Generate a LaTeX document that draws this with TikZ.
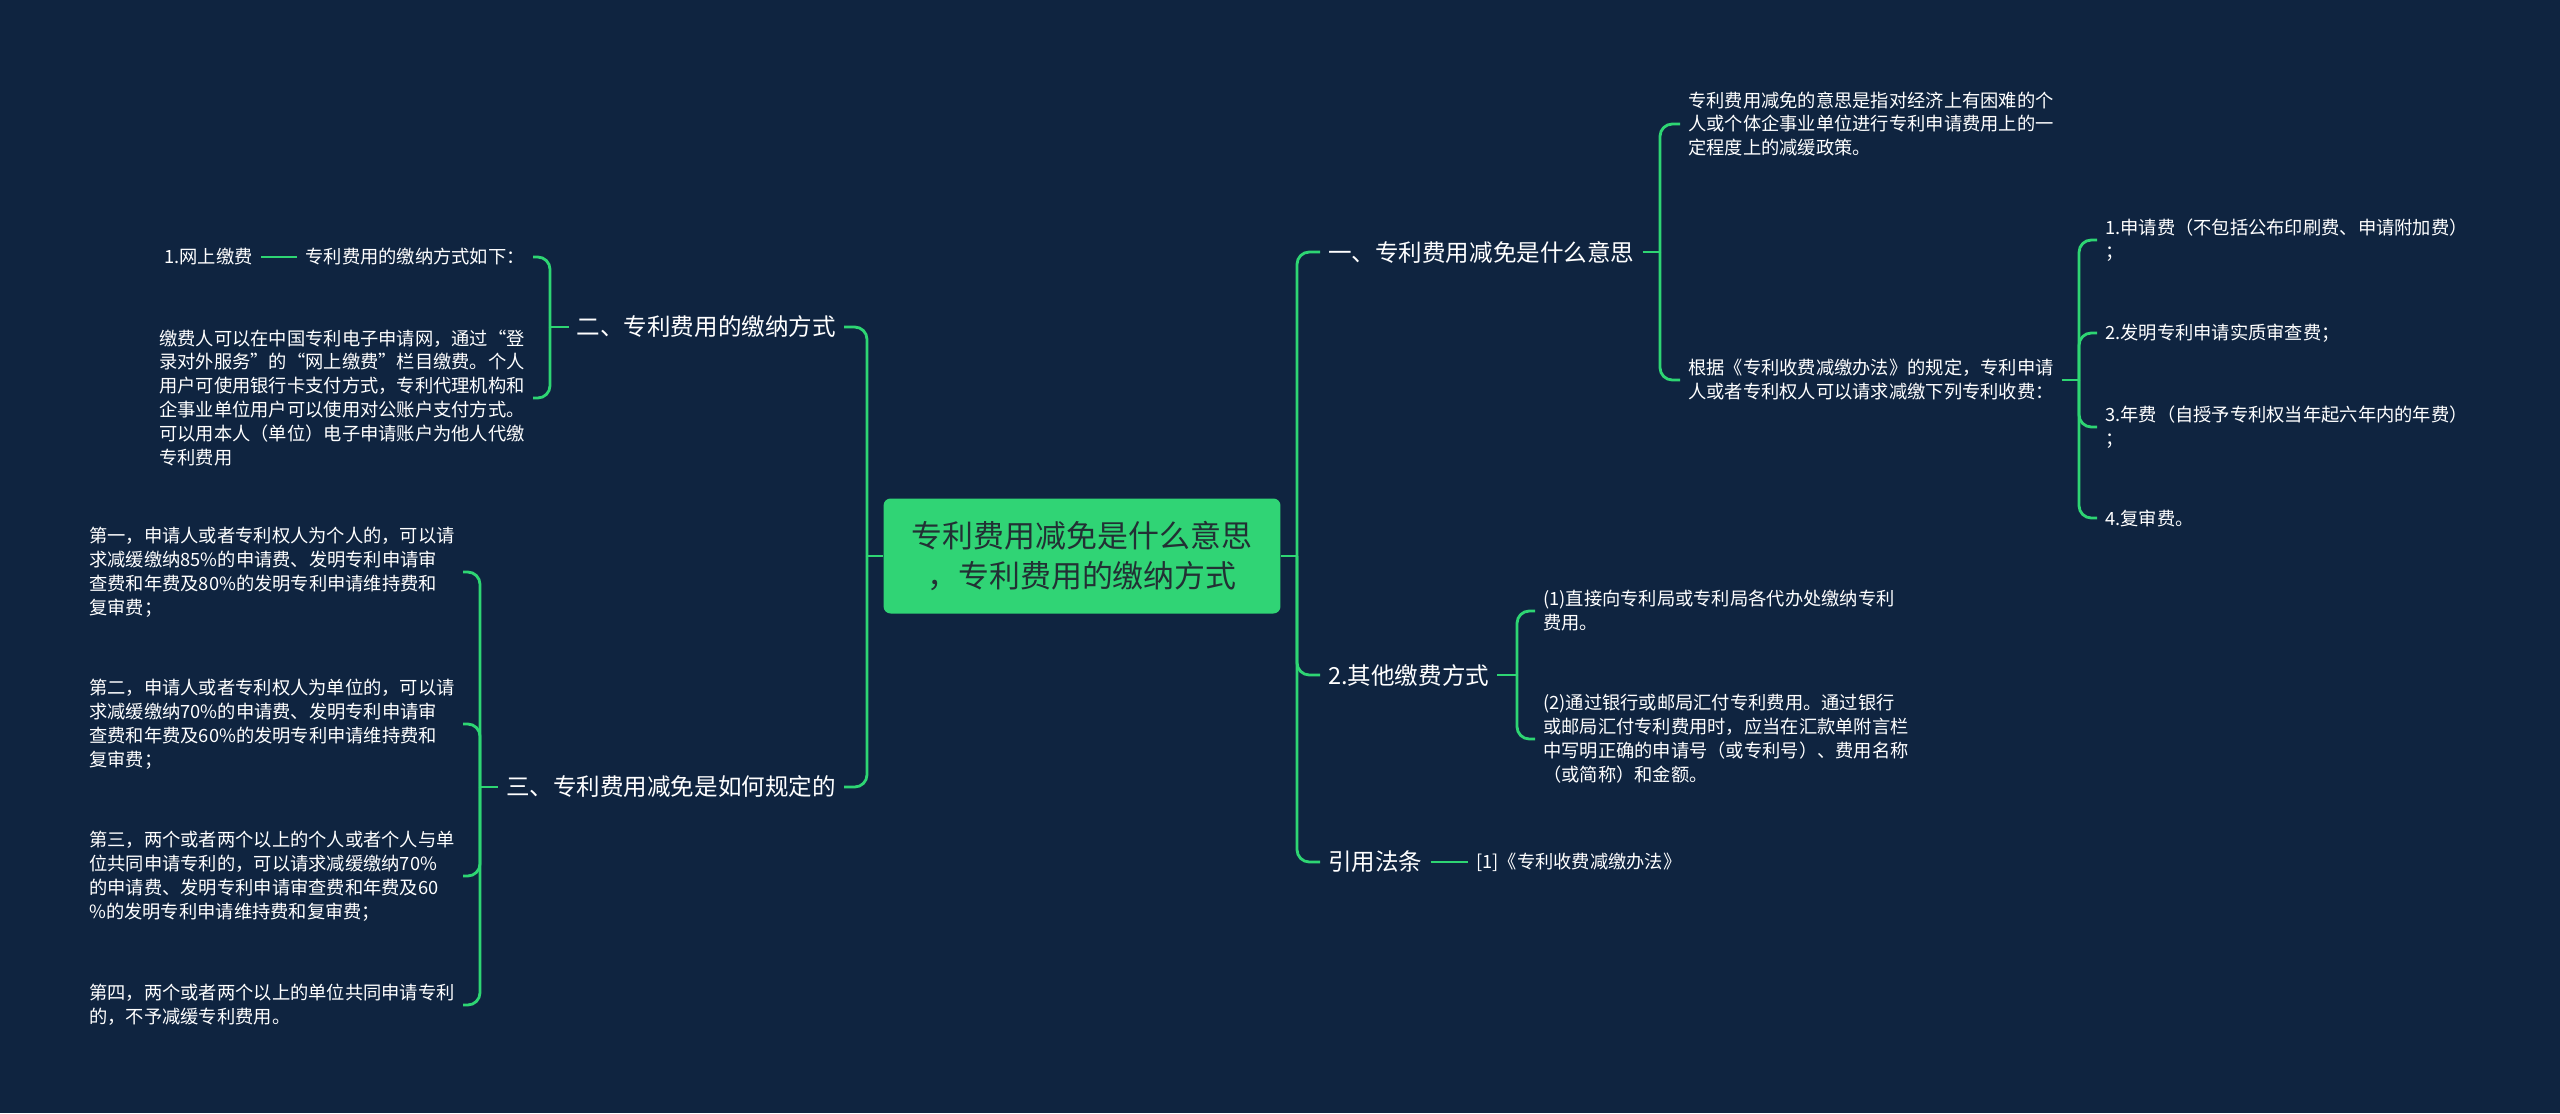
\documentclass[tikz,border=0pt]{standalone}
\usepackage{fontspec}
\setmainfont{Noto Sans CJK SC}
\definecolor{bg}{RGB}{15,36,64}
\definecolor{leaf}{RGB}{46,213,115}
\definecolor{rootfill}{RGB}{48,212,117}
\definecolor{roottext}{RGB}{34,48,52}

\begin{document}
\begin{tikzpicture}[x=0.02cm, y={(0,-0.02cm)},
  link/.style={draw=leaf, line width=1.6pt, rounded corners=7pt},
  root/.style={fill=rootfill, rounded corners=4pt, text=roottext, align=center,
    minimum width=7.94cm, minimum height=2.3cm, font=\fontsize{17.6pt}{22.8pt}\selectfont},
  topic/.style={text=white, inner sep=4.5pt, font=\fontsize{13.4pt}{16pt}\selectfont},
  note/.style={text=white, inner sep=4.5pt, align=left, font=\fontsize{10.4pt}{13.65pt}\selectfont}]
  \fill[bg] (0,0) rectangle (2560,1113);
  \useasboundingbox (0,0) rectangle (2560,1113);

  \node[root] (hub) at (1082,556) {专利费用减免是什么意思\\，专利费用的缴纳方式};

  \node[topic, anchor=west] (r1) at (1320,252) {一、专利费用减免是什么意思};
  \node[topic, anchor=west] (r2) at (1320,675) {2.其他缴费方式};
  \node[topic, anchor=west] (r3) at (1320,862) {引用法条};
  \node[topic, anchor=east] (l1) at (844,327) {二、专利费用的缴纳方式};
  \node[topic, anchor=east] (l2) at (844,787) {三、专利费用减免是如何规定的};

  \node[note, anchor=west] (r1a) at (1680,124) {专利费用减免的意思是指对经济上有困难的个\\人或个体企事业单位进行专利申请费用上的一\\定程度上的减缓政策。};
  \node[note, anchor=west] (r1b) at (1680,380) {根据《专利收费减缴办法》的规定，专利申请\\人或者专利权人可以请求减缴下列专利收费：};
  \node[note, anchor=west] (fee1) at (2097,240) {1.申请费（不包括公布印刷费、申请附加费）\\；};
  \node[note, anchor=west] (fee2) at (2097,333) {2.发明专利申请实质审查费；};
  \node[note, anchor=west] (fee3) at (2097,427) {3.年费（自授予专利权当年起六年内的年费）\\；};
  \node[note, anchor=west] (fee4) at (2097,518) {4.复审费。};
  \node[note, anchor=west] (way1) at (1535,611) {(1)直接向专利局或专利局各代办处缴纳专利\\费用。};
  \node[note, anchor=west] (way2) at (1535,739) {(2)通过银行或邮局汇付专利费用。通过银行\\或邮局汇付专利费用时，应当在汇款单附言栏\\中写明正确的申请号（或专利号）、费用名称\\（或简称）和金额。};
  \node[note, anchor=west] (law1) at (1468,862) {[1]《专利收费减缴办法》};

  \node[note, anchor=east] (l1a) at (533,257) {专利费用的缴纳方式如下：};
  \node[note, anchor=east] (l1aa) at (261,257) {1.网上缴费};
  \node[note, anchor=east] (l1b) at (533,398) {缴费人可以在中国专利电子申请网，通过“登\\录对外服务”的“网上缴费”栏目缴费。个人\\用户可使用银行卡支付方式，专利代理机构和\\企事业单位用户可以使用对公账户支付方式。\\可以用本人（单位）电子申请账户为他人代缴\\专利费用};
  \node[note, anchor=east] (t1) at (463,572) {第一，申请人或者专利权人为个人的，可以请\\求减缓缴纳85\%的申请费、发明专利申请审\\查费和年费及80\%的发明专利申请维持费和\\复审费；};
  \node[note, anchor=east] (t2) at (463,724) {第二，申请人或者专利权人为单位的，可以请\\求减缓缴纳70\%的申请费、发明专利申请审\\查费和年费及60\%的发明专利申请维持费和\\复审费；};
  \node[note, anchor=east] (t3) at (463,876) {第三，两个或者两个以上的个人或者个人与单\\位共同申请专利的，可以请求减缓缴纳70\%\\的申请费、发明专利申请审查费和年费及60\\\%的发明专利申请维持费和复审费；};
  \node[note, anchor=east] (t4) at (463,1005) {第四，两个或者两个以上的单位共同申请专利\\的，不予减缓专利费用。};

  \coordinate (rj) at (1297,556);
  \coordinate (lj) at (867,556);
  \coordinate (r1j) at (1660,252);
  \coordinate (r1bj) at (2079,380);
  \coordinate (r2j) at (1517,675);
  \coordinate (l1j) at (550,327);
  \coordinate (l2j) at (480,787);

  \draw[link] (hub.east) -- (rj);
  \draw[link] (rj) |- (r1.west);
  \draw[link] (rj) |- (r2.west);
  \draw[link] (rj) |- (r3.west);
  \draw[link] (hub.west) -- (lj);
  \draw[link] (lj) |- (l1.east);
  \draw[link] (lj) |- (l2.east);

  \draw[link] (r1.east) -- (r1j);
  \draw[link] (r1j) |- (r1a.west);
  \draw[link] (r1j) |- (r1b.west);
  \draw[link] (r1b.east) -- (r1bj);
  \draw[link] (r1bj) |- (fee1.west);
  \draw[link] (r1bj) |- (fee2.west);
  \draw[link] (r1bj) |- (fee3.west);
  \draw[link] (r1bj) |- (fee4.west);
  \draw[link] (r2.east) -- (r2j);
  \draw[link] (r2j) |- (way1.west);
  \draw[link] (r2j) |- (way2.west);
  \draw[link] (r3.east) -- (law1.west);

  \draw[link] (l1.west) -- (l1j);
  \draw[link] (l1j) |- (l1a.east);
  \draw[link] (l1j) |- (l1b.east);
  \draw[link] (l1a.west) -- (l1aa.east);
  \draw[link] (l2.west) -- (l2j);
  \draw[link] (l2j) |- (t1.east);
  \draw[link] (l2j) |- (t2.east);
  \draw[link] (l2j) |- (t3.east);
  \draw[link] (l2j) |- (t4.east);
\end{tikzpicture}
\end{document}
